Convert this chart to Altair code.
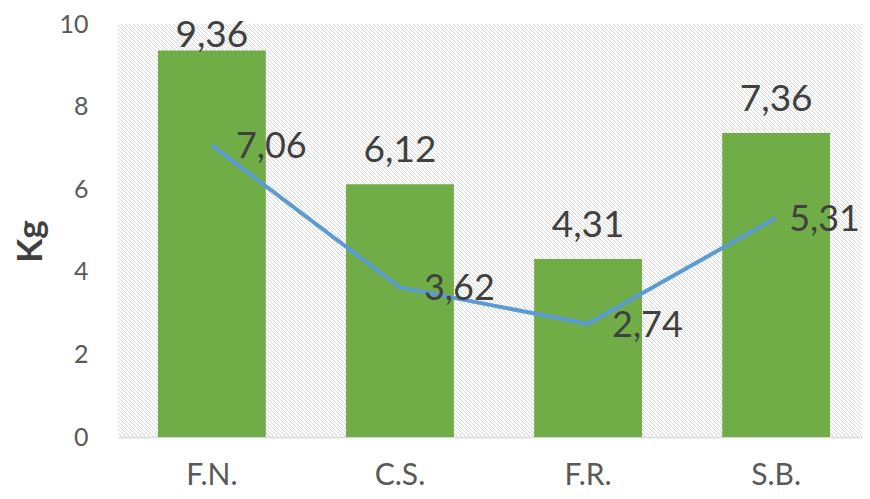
import altair as alt
import pandas as pd

categories = ["F.N.", "C.S.", "F.R.", "S.B."]
bar_values = [9.36, 6.12, 4.31, 7.36]
line_values = [7.06, 3.62, 2.74, 5.31]

W, H = 744, 413
FONT = "Lato"

def fmt(v):
    return f"{v:.2f}".replace(".", ",")

df = pd.DataFrame({
    "cat": categories,
    "bar": bar_values,
    "line": line_values,
    "bar_label": [fmt(v) for v in bar_values],
    "line_label": [fmt(v) for v in line_values],
})

# background hatch texture
hatch_df = pd.DataFrame({"o": list(range(-H, W + 4, 4))})
hatch = alt.Chart(hatch_df).mark_rule(color="#D4D4D4", strokeWidth=1, clip=True).transform_calculate(
    o2=f"datum.o + {H}"
).encode(
    x=alt.X("o:Q", scale=alt.Scale(domain=[0, W], nice=False, zero=False), axis=None),
    x2="o2:Q",
    y=alt.value(0),
    y2=alt.value(H),
)

xenc = alt.X("cat:N", sort=categories, title=None,
             scale=alt.Scale(paddingInner=0.4265, paddingOuter=0.191, align=0.556),
             axis=alt.Axis(labelFontSize=30, labelColor="#595959", labelFont=FONT,
                           labelPadding=23, domainColor="#D9D9D9", domainWidth=1.5,
                           ticks=False, labelAngle=0))
yscale = alt.Scale(domain=[0, 10], nice=False)

base = alt.Chart(df)

bars = base.mark_bar(color="#70AD47").encode(
    x=xenc,
    y=alt.Y("bar:Q", scale=yscale,
            axis=alt.Axis(values=[0, 2, 4, 6, 8, 10], labelFontSize=25, labelColor="#595959",
                          labelFont=FONT, labelPadding=30, domain=False, ticks=False, grid=False,
                          title="Kg", titleFontSize=35, titleFont=FONT, titleFontWeight="bold",
                          titleColor="#404040", titleAngle=-90, titleX=-77, titleY=217,
                          titleAlign="center", titleBaseline="alphabetic")),
)

bar_text_top = base.transform_filter(alt.datum.cat == "F.N.").mark_text(
    fontSize=37, font=FONT, color="#404040", baseline="alphabetic", dy=-3
).encode(
    x=alt.X("cat:N", sort=categories),
    y=alt.Y("bar:Q", scale=yscale),
    text="bar_label:N",
)
bar_text = base.transform_filter(alt.datum.cat != "F.N.").mark_text(
    fontSize=37, font=FONT, color="#404040", baseline="alphabetic", dy=-22
).encode(
    x=alt.X("cat:N", sort=categories),
    y=alt.Y("bar:Q", scale=yscale),
    text="bar_label:N",
)

line = base.mark_line(color="#5B9BD5", strokeWidth=4).encode(
    x=alt.X("cat:N", sort=categories),
    y=alt.Y("line:Q", scale=yscale),
)

line_text = base.transform_filter(alt.datum.cat != "S.B.").mark_text(
    fontSize=36, font=FONT, color="#404040", align="left", baseline="middle", dx=24, dy=2
).encode(
    x=alt.X("cat:N", sort=categories),
    y=alt.Y("line:Q", scale=yscale),
    text="line_label:N",
)
line_text_last = base.transform_filter(alt.datum.cat == "S.B.").mark_text(
    fontSize=36, font=FONT, color="#404040", align="left", baseline="middle", dx=13, dy=2
).encode(
    x=alt.X("cat:N", sort=categories),
    y=alt.Y("line:Q", scale=yscale),
    text="line_label:N",
)

main = alt.layer(bars, bar_text_top, bar_text, line, line_text, line_text_last)

chart = alt.layer(hatch, main).resolve_scale(x="independent", y="independent").properties(
    width=W, height=H,
    autosize=alt.AutoSizeParams(type="none"),
    padding={"left": 110, "top": 16, "right": 0, "bottom": 54},
).configure_view(stroke=None)

chart.save("out.html", embed_options={"renderer": "svg", "actions": False})
